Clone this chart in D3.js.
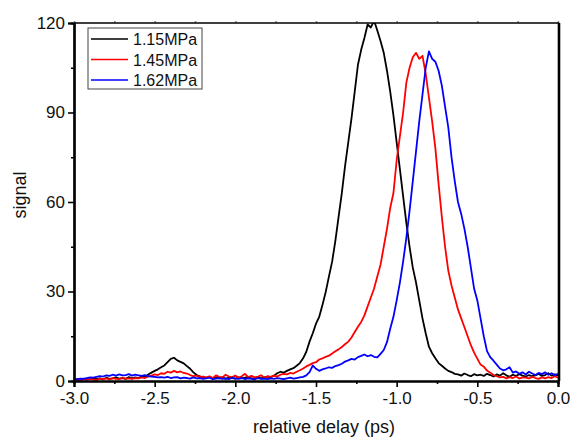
<html>
  <head>
    <meta charset="utf-8">
    <script src="https://d3js.org/d3.v7.min.js"></script>
  </head>
  <body style="margin:0;background:#fff">
    <div id="chart"></div>
    <script>
      // delay grid: -3.00 .. 0.00 ps, step 0.02
      const delayStart = -3.0
      const delayStep = 0.02

      const series = ["1.15MPa", "1.45MPa", "1.62MPa"]
      const colors = ["#000000", "#ff0000", "#0000ff"]

      const sig115 = [
        0.4,0.6,0.3,0.8,0.5,0.7,1.0,0.6,0.9,0.5,1.1,0.7,0.9,1.2,0.8,1.0,0.7,1.3,0.9,1.2,
        1.0,1.5,1.3,2.2,2.8,3.4,3.9,4.6,5.2,6.3,7.4,7.8,6.9,6.4,5.9,5.0,4.1,2.9,2.0,1.6,1.2,
        1.0,1.4,0.8,1.2,0.9,1.3,0.7,1.1,1.0,0.8,1.2,0.9,1.1,1.4,0.8,1.0,1.3,0.9,1.2,1.5,1.3,
        1.8,2.6,3.1,2.8,3.4,3.9,4.3,5.1,6.0,7.6,9.8,13.2,16.0,19.2,21.5,25.5,29.8,35,40,
        47,55,63,72,80,88,97,106,111,115,119.5,118.5,120.8,117.5,114,110,104,97,89,80,
        71,62,53,45,38,33,27,21,16,11.5,9.3,7.6,6.0,5.1,4.2,3.4,3.0,2.4,
        2.2,1.8,2.5,2.0,1.6,2.3,1.9,2.1,1.7,2.4,2.0,1.5,2.2,1.8,2.6,1.9,1.4,2.1,1.7,2.3,
        1.8,1.5,2.0,1.6,1.9,2.4,1.7,2.0,2.6,1.8,2.2,1.9
      ]
      const sig145 = [
        0.3,0.5,0.2,0.6,0.4,0.7,0.5,0.3,0.8,0.6,0.9,0.5,1.0,0.7,0.6,1.1,0.8,0.9,0.7,1.0,
        0.9,1.2,1.0,1.5,1.8,2.2,2.0,2.6,2.4,3.1,2.8,3.4,2.9,3.2,2.7,2.5,2.0,1.6,1.8,1.3,1.5,
        1.2,1.6,1.0,1.9,1.4,1.2,2.1,1.5,1.3,1.8,1.1,1.6,2.4,1.3,1.7,1.2,1.5,1.9,1.1,1.6,1.4,
        1.8,1.5,2.1,2.4,2.2,2.7,2.5,3.1,3.6,4.2,4.9,5.4,6.0,6.3,7.2,7.6,8.1,8.5,9.2,
        10,10.6,11.4,12.3,13.2,14.6,16.4,18.2,19.8,
        22,25,28,31,35,39,45,51,58,63,74,82,90,100,105,108.5,110,108,109,103,95,87,78,66,55,
        45,37,32,28,24,21,18,15,12,9.5,7.5,5.5,4.8,3.5,2.8,2.0,
        1.6,1.2,1.4,0.9,1.3,1.0,1.5,0.8,1.2,1.1,0.9,1.4,1.0,0.7,1.2,0.9,1.3,1.0,1.6,1.1
      ]
      const sig162 = [
        0.5,0.6,0.8,0.7,1.0,1.2,1.1,1.4,1.6,1.5,1.9,1.7,2.1,1.8,2.2,1.9,2.0,2.3,1.8,2.1,
        1.9,1.7,2.0,1.6,1.5,1.4,1.2,1.3,1.1,1.4,1.0,1.2,1.3,0.9,1.1,1.0,0.8,1.2,0.9,1.0,0.7,
        0.9,1.1,0.6,0.8,1.0,0.7,0.9,0.6,1.1,0.8,0.7,1.0,0.6,0.9,0.8,0.5,1.0,0.7,0.8,0.6,0.9,
        0.7,1.0,0.8,0.6,0.9,1.1,0.8,1.0,1.2,1.4,1.9,3.0,5.2,4.1,3.4,3.9,4.2,4.6,4.4,
        5.0,5.3,5.8,6.5,6.9,7.4,7.2,8.0,8.4,8.9,8.3,8.7,8.1,7.9,9.1,10.4,13.0,17.5,21.5,27,
        33,40,48,57,67,77,87,96,105,110.5,108,107,104,99,92,85,75,67,60,56,51,45,38,31,
        27,21,15,10,8.0,6.8,5.5,4.2,3.6,3.9,4.6,
        2.8,3.2,2.4,2.9,2.2,3.1,2.5,2.0,2.7,2.3,2.9,2.1,2.6,2.0,2.4
      ]

      const xTicks = [-3.0, -2.5, -2.0, -1.5, -1.0, -0.5, 0.0]
      const xMinor = [-2.75, -2.25, -1.75, -1.25, -0.75, -0.25]
      const yTicks = [0, 30, 60, 90, 120]
      const yMinor = [15, 45, 75, 105]

      const allSignals = [sig115, sig145, sig162]

      let data = {
        fullWidth: 572,
        fullHeight: 437,
        margin: { left: 74, right: 14, top: 23, bottom: 56 }
      }
      data.width = data.fullWidth - data.margin.left - data.margin.right
      data.height = data.fullHeight - data.margin.top - data.margin.bottom

      let svg = d3.select("#chart")
        .append("svg")
        .attr("width", data.fullWidth)
        .attr("height", data.fullHeight)
        .style("font-family", "'Liberation Sans', Arial, sans-serif")

      let g = svg.append("g")
        .attr("transform", `translate(${data.margin.left},${data.margin.top})`)

      let x = d3.scaleLinear().domain([-3, 0]).range([0, data.width])
      let y = d3.scaleLinear().domain([0, 120]).range([data.height, 0])

      g.append("defs").append("clipPath").attr("id", "plot-clip")
        .append("rect")
        .attr("width", data.width)
        .attr("height", data.height)

      let line = d3.line()
        .x((d, i) => x(delayStart + i * delayStep))
        .y(d => y(d))

      let plot = g.append("g").attr("clip-path", "url(#plot-clip)")
      allSignals.forEach((s, k) => {
        plot.append("path")
          .datum(s)
          .attr("fill", "none")
          .attr("stroke", colors[k])
          .attr("stroke-width", 1.8)
          .attr("stroke-linejoin", "round")
          .attr("d", line)
      })

      // axes (plain hyphen minus like the original)
      let fmtX = d => d.toFixed(1)
      g.append("g")
        .attr("transform", `translate(0,${data.height})`)
        .call(d3.axisBottom(x).tickValues(xTicks).tickFormat(fmtX).tickSize(6).tickPadding(5))
      g.append("g")
        .attr("transform", `translate(0,${data.height})`)
        .call(d3.axisBottom(x).tickValues(xMinor).tickFormat("").tickSize(3))

      g.append("g")
        .call(d3.axisLeft(y).tickValues(yTicks).tickFormat(d => String(d)).tickSize(6).tickPadding(3))
      g.append("g")
        .call(d3.axisLeft(y).tickValues(yMinor).tickFormat("").tickSize(3))

      // small ticks on top edge
      g.append("g")
        .call(d3.axisTop(x).tickValues(xTicks.concat(xMinor)).tickFormat("").tickSize(2))
        .call(a => a.select(".domain").remove())
        .selectAll("line").attr("stroke", "#888")

      g.selectAll(".domain").attr("stroke-width", 2.2)
      g.selectAll(".tick line").attr("stroke-width", 1.6)
      g.selectAll(".tick text").attr("font-size", "17px").attr("fill", "#111")
        .attr("font-family", "'Liberation Sans', Arial, sans-serif")

      // frame top and right
      g.append("line")
        .attr("x1", 0).attr("x2", data.width + 1)
        .attr("y1", 0).attr("y2", 0)
        .attr("stroke", "#000").attr("stroke-width", 1.6)
      g.append("line")
        .attr("x1", data.width + 1).attr("x2", data.width + 1)
        .attr("y1", 0).attr("y2", data.height)
        .attr("stroke", "#000").attr("stroke-width", 2.6)

      // titles
      svg.append("text")
        .attr("x", 324).attr("y", 433)
        .attr("text-anchor", "middle")
        .attr("font-size", "18px").attr("fill", "#111")
        .text("relative delay (ps)")
      svg.append("text")
        .attr("transform", "translate(26,195) rotate(-90)")
        .attr("text-anchor", "middle")
        .attr("font-size", "18px").attr("fill", "#111")
        .text("signal")

      // legend
      let legend = svg.append("g").attr("transform", "translate(88,28)")
      legend.append("rect")
        .attr("width", 114).attr("height", 61)
        .attr("fill", "#fff").attr("stroke", "#444").attr("stroke-width", 1)
      series.forEach((name, k) => {
        let row = legend.append("g").attr("transform", `translate(0,${11 + k * 20.5})`)
        row.append("line")
          .attr("x1", 3).attr("x2", 40)
          .attr("stroke", colors[k]).attr("stroke-width", 1.6)
        row.append("text")
          .attr("x", 45).attr("y", 6)
          .attr("font-size", "16px").attr("fill", "#111")
          .text(name)
      })
    </script>
  </body>
</html>
